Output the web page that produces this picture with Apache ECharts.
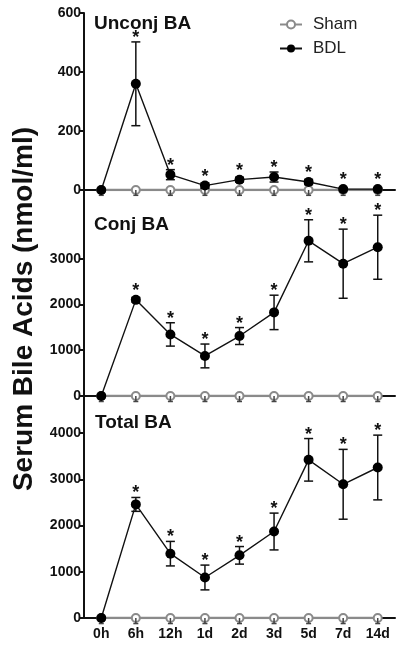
<!DOCTYPE html>
<html>
<head>
<meta charset="utf-8">
<script src="https://cdn.jsdelivr.net/npm/echarts@6/dist/echarts.min.js"></script>
<style>
html,body{margin:0;padding:0;background:#fff;}
#chart{width:400px;height:646px;}
</style>
</head>
<body>
<div id="chart"></div>
<script>
// ---- data ----
const categories = ['0h','6h','12h','1d','2d','3d','5d','7d','14d'];
const panelTitles = ['Unconj BA','Conj BA','Total BA'];
const yAxisTitle = 'Serum Bile Acids (nmol/ml)';

const unconjBDL = [0, 360, 52, 15, 35, 44, 27, 3, 3];
const unconjBDLsem = [0, 142, 17, 9, 8, 17, 9, 3, 3];
const conjBDL = [0, 2100, 1345, 875, 1310, 1826, 3390, 2890, 3250];
const conjBDLsem = [0, 50, 255, 260, 185, 376, 460, 755, 700];
const totalBDL = [0, 2456, 1391, 876, 1355, 1870, 3420, 2891, 3254];
const totalBDLsem = [0, 150, 265, 268, 190, 398, 460, 755, 700];

const unconjSham = [0, 0, 0, 0, 0, 0, 0, 0, 0];
const unconjShamSem = [18, 18, 18, 18, 18, 18, 18, 18, 18];
const conjSham = [0, 0, 0, 0, 0, 0, 0, 0, 0];
const conjShamSem = [120, 120, 120, 120, 120, 120, 120, 120, 120];
const totalSham = [0, 0, 0, 0, 0, 0, 0, 0, 0];
const totalShamSem = [120, 120, 120, 120, 120, 120, 120, 120, 120];

const significant = [false, true, true, true, true, true, true, true, true];

const yTicks0 = [0, 200, 400, 600];
const yTicks1 = [0, 1000, 2000, 3000];
const yTicks2 = [0, 1000, 2000, 3000, 4000];
const yMax = [600, 4500, 4800];

// ---- chart ----
const FONT = '"Liberation Sans", Arial, sans-serif';
const chart = echarts.init(document.getElementById('chart'), null, {renderer: 'canvas'});

const grids = [
  {left: 84, right: 5, top: 13, height: 177},
  {left: 84, right: 5, top: 190, height: 206},
  {left: 84, right: 5, top: 396, height: 222}
];

const panels = [
  {bdl: unconjBDL, bdlSem: unconjBDLsem, sham: unconjSham, shamSem: unconjShamSem, ticks: yTicks0},
  {bdl: conjBDL, bdlSem: conjBDLsem, sham: conjSham, shamSem: conjShamSem, ticks: yTicks1},
  {bdl: totalBDL, bdlSem: totalBDLsem, sham: totalSham, shamSem: totalShamSem, ticks: yTicks2}
];

const xAxes = panels.map((p, i) => ({
  type: 'category',
  gridIndex: i,
  data: categories,
  boundaryGap: true,
  axisLine: {show: true, lineStyle: {color: '#111', width: 2}},
  axisTick: {show: false},
  axisLabel: {
    show: i === 2,
    color: '#111',
    fontFamily: FONT,
    fontWeight: 'bold',
    fontSize: 14,
    margin: 9
  },
  splitLine: {show: false}
}));

const yAxes = panels.map((p, i) => ({
  type: 'value',
  gridIndex: i,
  min: 0,
  max: yMax[i],
  axisLine: {show: true, lineStyle: {color: '#111', width: 2}},
  axisTick: {show: true, length: 5, lineStyle: {color: '#111', width: 2}, customValues: p.ticks},
  axisLabel: {
    color: '#111',
    fontFamily: FONT,
    fontWeight: 'bold',
    fontSize: 14,
    margin: 3,
    customValues: p.ticks,
    formatter: (v) => String(v)
  },
  splitLine: {show: false}
}));

function errRender(color, lw, capW, downOnly, withStar) {
  return function (params, api) {
    const x = api.value(0), v = api.value(1), e = api.value(2), s = api.value(3);
    const pt = api.coord([x, v]);
    const top = downOnly ? pt : api.coord([x, v + e]);
    const bot = api.coord([x, Math.max(v - e, downOnly ? v - e : 0)]);
    const children = [];
    if (e > 0) {
      children.push({type: 'line', shape: {x1: pt[0], y1: top[1], x2: pt[0], y2: bot[1]}, style: {stroke: color, lineWidth: lw}});
      if (!downOnly) {
        children.push({type: 'line', shape: {x1: pt[0] - capW / 2, y1: top[1], x2: pt[0] + capW / 2, y2: top[1]}, style: {stroke: color, lineWidth: lw}});
      }
      children.push({type: 'line', shape: {x1: pt[0] - capW / 2, y1: bot[1], x2: pt[0] + capW / 2, y2: bot[1]}, style: {stroke: color, lineWidth: lw}});
    }
    if (withStar && s) {
      const ty = Math.min(top[1], pt[1] - 5);
      children.push({type: 'text', style: {text: '*', x: pt[0], y: ty - 4, align: 'center', verticalAlign: 'middle', font: 'bold 18px ' + FONT, fill: '#111'}});
    }
    return {type: 'group', children: children};
  };
}

const series = [];
panels.forEach((p, i) => {
  series.push({
    name: 'Sham', type: 'line', xAxisIndex: i, yAxisIndex: i,
    data: p.sham, symbol: 'emptyCircle', symbolSize: 8, z: 2,
    lineStyle: {color: '#8a8a8a', width: 2.5},
    itemStyle: {color: '#8a8a8a', borderWidth: 1.5}
  });
  series.push({
    type: 'custom', xAxisIndex: i, yAxisIndex: i, z: 3,
    renderItem: errRender('#444', 1.5, 5, true, false),
    data: p.sham.map((v, k) => [k, v, p.shamSem[k], 0]),
    encode: {x: 0, y: 1}, silent: true
  });
  series.push({
    type: 'custom', xAxisIndex: i, yAxisIndex: i, z: 4,
    renderItem: errRender('#111', 1.5, 9, false, true),
    data: p.bdl.map((v, k) => [k, v, p.bdlSem[k], significant[k] ? 1 : 0]),
    encode: {x: 0, y: 1}, silent: true
  });
  series.push({
    name: 'BDL', type: 'line', xAxisIndex: i, yAxisIndex: i,
    data: p.bdl, symbol: 'circle', symbolSize: 10, z: 5,
    lineStyle: {color: '#111', width: 1.4},
    itemStyle: {color: '#000'}
  });
});

const option = {
  animation: false,
  backgroundColor: '#fff',
  grid: grids,
  xAxis: xAxes,
  yAxis: yAxes,
  title: [
    {text: panelTitles[0], left: 89, top: 9, textStyle: {fontFamily: FONT, fontWeight: 'bold', fontSize: 19, color: '#111'}},
    {text: panelTitles[1], left: 89, top: 210, textStyle: {fontFamily: FONT, fontWeight: 'bold', fontSize: 19, color: '#111'}},
    {text: panelTitles[2], left: 90, top: 408, textStyle: {fontFamily: FONT, fontWeight: 'bold', fontSize: 19, color: '#111'}}
  ],
  legend: {
    data: ['Sham', 'BDL'],
    orient: 'vertical',
    left: 279, top: 16, padding: 0,
    itemWidth: 22, itemHeight: 10, itemGap: 7,
    textStyle: {fontFamily: FONT, fontSize: 17, color: '#222', padding: [0, 0, 0, 6]}
  },
  graphic: [{
    type: 'text',
    left: 10, top: 127,
    rotation: Math.PI / 2,
    style: {text: yAxisTitle, font: 'bold 28px ' + FONT, fill: '#111'}
  }],
  series: series
};
chart.setOption(option);
</script>
</body>
</html>
